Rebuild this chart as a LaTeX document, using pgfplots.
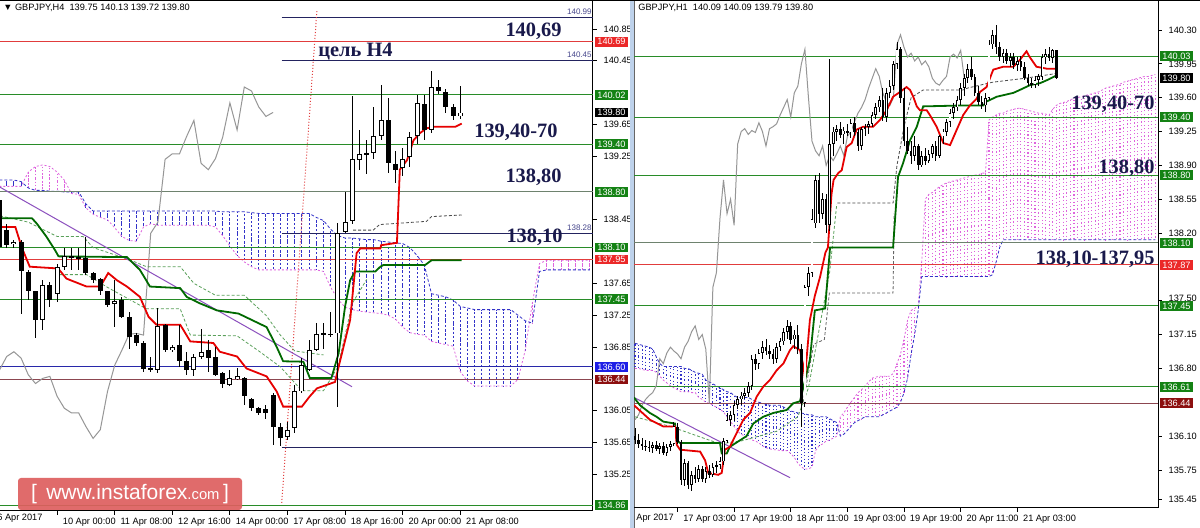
\documentclass[border=0pt]{standalone}
\usepackage{pgfplots}
\pgfplotsset{compat=1.18}
\usepackage{pgfplotstable}
\usepackage{fontspec}
\setmainfont{Liberation Sans}
\newfontfamily\labelserif{Liberation Serif}

\definecolor{lvlgreen}{RGB}{40,140,40}
\definecolor{lvlgray}{RGB}{110,130,110}
\definecolor{lvlred}{RGB}{225,60,60}
\definecolor{lvlbrown}{RGB}{140,70,80}
\definecolor{lvlblue}{RGB}{40,40,170}
\definecolor{lvlnavy}{RGB}{35,35,95}
\definecolor{boxgreen}{RGB}{20,130,20}
\definecolor{boxred}{RGB}{235,40,40}
\definecolor{boxblue}{RGB}{30,30,230}
\definecolor{boxbrown}{RGB}{140,15,15}
\definecolor{tenkan}{RGB}{230,0,0}
\definecolor{kijun}{RGB}{0,105,0}
\definecolor{chikou}{RGB}{150,150,150}
\definecolor{cloudblue}{RGB}{50,50,200}
\definecolor{cloudmag}{RGB}{222,100,222}
\definecolor{trendpurple}{RGB}{140,80,190}
\definecolor{labelnavy}{RGB}{25,25,75}
\definecolor{logored}{RGB}{222,95,95}
\definecolor{sepblue}{RGB}{190,210,235}
\definecolor{dashgreen}{RGB}{90,160,90}
\definecolor{smallnavy}{RGB}{70,70,140}

% ---------- H4 candles ----------
\pgfplotstableread{
x o h l c
-1 138.70 138.75 138.05 138.11
0 138.32 138.40 138.10 138.13
1 138.145 138.20 138.10 138.175
2 138.175 138.20 137.27 137.80
3 137.80 137.82 137.44 137.55
4 137.55 137.56 136.96 137.19
5 137.19 137.69 137.06 137.63
6 137.63 137.67 137.36 137.44
7 137.52 137.90 137.42 137.86
8 137.86 138.09 137.82 137.99
9 137.99 138.10 137.82 137.97
10 137.97 138.10 137.82 137.98
11 137.97 138.24 137.76 137.78
12 137.78 137.80 137.66 137.69
13 137.70 137.72 137.50 137.55
14 137.55 137.56 137.35 137.38
15 137.39 137.69 137.10 137.43
16 137.44 137.48 137.21 137.23
17 137.23 137.29 136.83 136.98
18 137.00 137.02 136.86 136.90
19 136.90 136.92 136.54 136.58
20 136.58 136.73 136.54 136.57
21 136.56 137.34 136.52 137.11
22 137.13 137.14 136.79 136.81
23 136.81 136.88 136.79 136.85
24 136.87 137.13 136.60 136.67
25 136.67 136.79 136.50 136.56
26 136.56 136.76 136.48 136.73
27 136.73 137.08 136.70 136.79
28 136.81 136.94 136.54 136.71
29 136.72 136.85 136.48 136.50
30 136.52 136.53 136.33 136.39
31 136.37 136.56 136.36 136.455
32 136.45 136.58 136.44 136.48
33 136.46 136.47 136.12 136.23
34 136.20 136.21 136.04 136.08
35 136.08 136.09 136.00 136.02
36 136.07 136.12 135.95 136.02
37 136.25 136.27 135.62 135.85
38 135.85 135.89 135.60 135.70
39 135.72 135.91 135.68 135.81
40 135.83 136.37 135.77 136.29
41 136.29 136.71 136.27 136.62
42 136.56 136.94 136.55 136.81
43 136.81 137.15 136.80 137.01
44 137.01 137.15 136.82 137.02
45 137.02 137.29 136.98 137.00
46 137.02 138.41 136.10 138.28
47 138.30 138.80 138.28 138.42
48 138.43 140.01 138.40 139.21
49 139.20 139.58 139.07 139.28
50 139.28 139.45 139.03 139.28
51 139.29 139.87 139.22 139.50
52 139.50 140.15 139.45 139.70
53 139.70 139.98 139.04 139.16
54 139.15 139.31 138.91 139.08
55 139.10 139.35 139.00 139.22
56 139.24 139.56 139.12 139.49
57 139.50 140.02 139.40 139.92
58 139.91 140.02 139.45 139.58
59 139.58 140.32 139.54 140.12
60 140.12 140.21 140.03 140.07
61 140.06 140.10 139.80 139.87
62 139.87 139.90 139.70 139.75
63 139.75 140.13 139.72 139.80
}\Lc

% ---------- H4 cloud (span A, span B) ----------
\pgfplotstableread{
x a b
-1 138.87 138.95
0 138.87 138.95
1 138.87 138.95
2 138.87 138.93
3 139.05 138.85
4 139.12 138.82
5 139.14 138.82
6 139.12 138.81
7 139.05 138.81
8 138.95 138.80
9 138.78 138.80
10 138.77 138.80
11 138.60 138.65
12 138.52 138.56
13 138.48 138.56
14 138.45 138.56
15 138.35 138.56
16 138.24 138.56
17 138.19 138.56
18 138.18 138.56
19 138.36 138.56
20 138.40 138.56
21 138.38 138.56
22 138.38 138.56
23 138.38 138.56
24 138.38 138.56
25 138.38 138.56
26 138.38 138.56
27 138.38 138.56
28 138.38 138.56
29 138.36 138.56
30 138.25 138.55
31 138.12 138.55
32 138.00 138.55
33 137.92 138.55
34 137.86 138.54
35 137.82 138.53
36 137.82 138.53
37 137.82 138.53
38 137.82 138.53
39 137.82 138.53
40 137.82 138.53
41 137.82 138.53
42 137.82 138.53
43 137.82 138.48
44 137.80 138.44
45 137.60 138.33
46 137.45 138.25
47 137.35 138.22
48 137.32 138.22
49 137.30 138.21
50 137.29 138.20
51 137.28 138.20
52 137.27 138.18
53 137.25 138.17
54 137.20 138.16
55 137.10 138.15
56 137.03 138.10
57 137.01 138.00
58 137.00 137.88
59 136.92 137.52
60 136.90 137.50
61 136.88 137.48
62 136.86 137.44
63 136.54 137.36
64 136.42 137.34
65 136.36 137.32
66 136.36 137.32
67 136.36 137.32
68 136.36 137.32
69 136.36 137.32
70 136.36 137.32
71 136.44 137.25
72 136.80 137.18
73 137.40 137.15
74 137.90 137.80
75 137.94 137.82
76 137.94 137.82
77 137.94 137.82
78 137.94 137.82
79 137.94 137.82
80 137.94 137.82
81 137.94 137.82
}\Lcloud

% ---------- H1 candles ----------
\pgfplotstableread{
x o h l c
0 136.10 136.18 136.02 136.06
1 136.06 136.12 135.98 136.02
2 136.02 136.08 135.96 136.00
3 136.00 136.06 135.95 135.99
4 135.99 136.05 135.94 135.98
5 135.98 136.04 135.93 136.01
6 136.01 136.05 135.95 135.97
7 135.97 136.03 135.92 136.00
8 136.00 136.04 135.90 135.93
9 135.93 136.02 135.90 135.99
10 135.99 136.05 135.95 136.02
11 136.02 136.25 136.00 136.20
12 136.20 136.24 136.02 136.04
13 136.04 136.06 135.60 135.65
14 135.65 135.86 135.58 135.82
15 135.82 135.84 135.55 135.60
16 135.60 135.74 135.53 135.70
17 135.70 135.78 135.62 135.66
18 135.66 135.80 135.63 135.76
19 135.76 135.79 135.63 135.66
20 135.66 135.78 135.62 135.74
21 135.74 135.80 135.67 135.70
22 135.70 135.82 135.68 135.78
23 135.78 135.84 135.72 135.80
24 135.80 135.88 135.76 135.84
25 135.84 136.08 135.80 136.05
26 136.05 136.34 136.03 136.27
27 136.27 136.36 136.20 136.32
28 136.32 136.46 136.26 136.42
29 136.42 136.52 136.38 136.48
30 136.48 136.56 136.42 136.52
31 136.52 136.60 136.48 136.55
32 136.55 136.66 136.50 136.62
33 136.62 136.94 136.58 136.90
34 136.90 136.95 136.78 136.85
35 136.85 137.00 136.80 136.96
36 136.96 137.08 136.90 137.02
37 137.02 137.10 136.94 136.98
38 136.98 137.04 136.90 136.95
39 136.95 137.00 136.85 136.90
40 136.90 137.06 136.86 137.02
41 137.02 137.12 136.98 137.08
42 137.08 137.22 137.04 137.18
43 137.18 137.30 137.10 137.24
44 137.24 137.28 137.05 137.10
45 137.10 137.20 137.00 137.15
46 137.15 137.25 136.95 137.00
47 137.00 137.05 136.20 136.44
48 136.44 137.66 136.40 137.64
49 137.64 137.85 137.55 137.79
50 137.79 138.45 137.75 138.35
51 138.30 138.80 138.25 138.75
52 138.75 138.82 138.30 138.40
53 138.40 138.62 138.35 138.55
54 138.55 138.60 138.20 138.28
55 138.28 140.00 138.22 139.12
56 139.12 139.30 139.00 139.25
57 139.25 139.32 139.15 139.28
58 139.28 139.35 139.18 139.22
59 139.22 139.30 139.12 139.26
60 139.26 139.33 139.20 139.24
61 139.24 139.38 139.18 139.34
62 139.34 139.40 139.20 139.25
63 139.25 139.28 139.05 139.10
64 139.10 139.30 139.06 139.28
65 139.28 139.33 139.20 139.30
66 139.30 139.36 139.22 139.33
67 139.33 139.45 139.30 139.42
68 139.42 139.55 139.38 139.50
69 139.50 139.62 139.45 139.58
70 139.58 139.70 139.36 139.40
71 139.40 139.70 139.35 139.65
72 139.65 139.78 139.60 139.72
73 139.72 139.98 139.68 139.95
74 139.95 140.18 139.90 140.10
75 140.10 140.12 139.55 139.60
76 139.60 139.70 139.10 139.15
77 139.15 139.30 139.02 139.05
78 139.05 139.15 138.92 139.00
79 139.00 139.20 138.95 139.10
80 139.10 139.12 138.85 138.90
81 138.90 139.05 138.88 139.00
82 139.00 139.08 138.90 138.95
83 138.95 139.06 138.92 139.02
84 139.02 139.12 138.98 139.10
85 139.10 139.15 138.95 139.00
86 139.00 139.22 138.98 139.20
87 139.20 139.28 139.12 139.25
88 139.25 139.38 139.20 139.35
89 139.35 139.48 139.30 139.44
90 139.44 139.55 139.38 139.50
91 139.50 139.62 139.46 139.58
92 139.58 139.75 139.52 139.70
93 139.70 139.85 139.62 139.80
94 139.80 139.95 139.75 139.90
95 139.90 140.02 139.78 139.82
96 139.82 139.85 139.62 139.65
97 139.65 139.72 139.52 139.56
98 139.56 139.62 139.48 139.52
99 139.52 139.65 139.45 139.60
100 139.60 140.20 139.58 140.15
101 140.15 140.30 140.10 140.25
102 140.25 140.35 140.05 140.12
103 140.12 140.18 139.98 140.02
104 140.02 140.10 139.96 140.06
105 140.06 140.10 139.95 139.98
106 139.98 140.06 139.92 140.02
107 140.02 140.06 139.90 139.94
108 139.94 140.02 139.88 139.98
109 139.98 140.03 139.88 139.92
110 139.92 139.97 139.78 139.80
111 139.80 139.84 139.72 139.75
112 139.75 139.80 139.70 139.73
113 139.73 139.82 139.70 139.78
114 139.78 139.85 139.72 139.82
115 139.82 140.05 139.78 140.02
116 140.02 140.10 139.95 140.05
117 140.05 140.12 139.98 140.01
118 140.01 140.10 139.96 140.09
119 140.09 140.09 139.79 139.80
}\Rc

% ---------- H1 cloud ----------
\pgfplotstableread{
x a b
0 136.80 137.06
1 136.80 137.05
2 136.79 137.04
3 136.78 137.03
4 136.78 137.02
5 136.78 137.00
6 136.76 136.92
7 136.72 136.85
8 136.68 136.82
9 136.65 136.82
10 136.62 136.82
11 136.60 136.82
12 136.58 136.82
13 136.56 136.82
14 136.56 136.80
15 136.56 136.80
16 136.55 136.78
17 136.55 136.76
18 136.50 136.75
19 136.48 136.74
20 136.45 136.68
21 136.44 136.66
22 136.42 136.64
23 136.40 136.62
24 136.38 136.60
25 136.35 136.58
26 136.30 136.56
27 136.25 136.55
28 136.20 136.52
29 136.15 136.50
30 136.12 136.50
31 136.10 136.50
32 136.08 136.50
33 136.06 136.48
34 136.05 136.46
35 136.03 136.45
36 136.00 136.44
37 135.98 136.43
38 135.97 136.42
39 135.96 136.42
40 135.96 136.42
41 135.95 136.42
42 135.95 136.40
43 135.95 136.38
44 135.92 136.36
45 135.88 136.35
46 135.82 136.34
47 135.78 136.34
48 135.76 136.33
49 135.76 136.32
50 135.78 136.32
51 135.95 136.30
52 136.00 136.30
53 136.02 136.30
54 136.05 136.30
55 136.06 136.28
56 136.08 136.26
57 136.10 136.24
58 136.30 136.10
59 136.34 136.12
60 136.40 136.16
61 136.45 136.20
62 136.50 136.24
63 136.55 136.26
64 136.58 136.28
65 136.62 136.30
66 136.66 136.30
67 136.70 136.30
68 136.71 136.30
69 136.72 136.30
70 136.72 136.32
71 136.72 136.34
72 136.72 136.36
73 136.75 136.38
74 136.85 136.40
75 136.95 136.45
76 137.10 136.55
77 137.30 136.70
78 137.40 136.95
79 137.42 137.15
80 137.45 137.40
81 137.90 137.75
82 138.55 137.75
83 138.60 137.75
84 138.62 137.75
85 138.65 137.75
86 138.68 137.75
87 138.70 137.75
88 138.72 137.75
89 138.73 137.75
90 138.74 137.75
91 138.75 137.75
92 138.76 137.75
93 138.77 137.75
94 138.78 137.75
95 138.79 137.75
96 138.80 137.75
97 138.80 137.75
98 138.82 137.75
99 138.82 137.75
100 139.37 137.75
101 139.40 137.77
102 139.42 137.90
103 139.44 138.05
104 139.44 138.13
105 139.46 138.13
106 139.47 138.13
107 139.48 138.13
108 139.49 138.13
109 139.49 138.13
110 139.48 138.13
111 139.47 138.13
112 139.46 138.13
113 139.45 138.13
114 139.44 138.13
115 139.44 138.13
116 139.43 138.13
117 139.42 138.13
118 139.48 138.13
119 139.52 138.13
120 139.54 138.13
121 139.55 138.13
122 139.56 138.13
123 139.58 138.13
124 139.59 138.13
125 139.60 138.13
126 139.61 138.13
127 139.62 138.13
128 139.63 138.13
129 139.64 138.13
130 139.65 138.13
131 139.66 138.13
132 139.68 138.13
133 139.70 138.13
134 139.71 138.13
135 139.72 138.13
136 139.73 138.13
137 139.74 138.13
138 139.76 138.13
139 139.77 138.13
140 139.78 138.13
141 139.79 138.13
142 139.80 138.13
143 139.81 138.13
144 139.82 138.13
145 139.82 138.13
146 139.83 138.13
147 139.84 138.13
}\Rcloud

\newcommand{\hl}[4]{\addplot[#1, line width=0.5pt] coordinates {(#2,#4) (#3,#4)};}

\pgfplotsset{
  mt4/.style={scale only axis, axis x line*=bottom, axis y line*=right,
    axis line style={line width=0.5pt, black}, tick align=outside,
    major tick length=1.8pt, tick style={black, line width=0.4pt},
    ticklabel style={font=\fontsize{4.6}{5}\selectfont},
    xticklabel style={anchor=north west, xshift=-0.6pt, yshift=1.6pt},
    clip mode=individual, every axis plot/.append style={forget plot}},
  eb/.style={draw=none, error bars/y dir=both, error bars/y explicit, error bars/error mark=none},
}
\tikzset{
  pbox/.style={anchor=west, xshift=0.6pt, inner xsep=1.4pt, inner ysep=0.8pt,
    text height=3.3pt, text depth=0pt, font=\fontsize{4.6}{5}\selectfont, text=white},
  big/.style={inner sep=0pt, text=labelnavy, font=\labelserif\bfseries\fontsize{10.2}{11}\selectfont},
}

\begin{document}
\begin{tikzpicture}
\useasboundingbox (0,0) rectangle (600pt,264pt);
\fill[white] (0,0) rectangle (600pt,264pt);

% ================= LEFT PANEL (H4) =================
\begin{axis}[mt4, at={(0pt,8.5pt)}, anchor=south west, width=296.5pt, height=255pt,
  xmin=-0.93, xmax=81.43, ymin=134.787, ymax=141.202,
  ytick={140.85,140.45,139.65,139.25,138.45,137.65,137.25,136.85,136.05,135.65,135.25},
  yticklabels={140.85,140.45,139.65,139.25,138.45,137.65,137.25,136.85,136.05,135.65,135.25},
  xtick={7,15,23,31,39,47,55,63},
  xticklabels={10 Apr 00:00,11 Apr 08:00,12 Apr 16:00,14 Apr 00:00,17 Apr 08:00,18 Apr 16:00,20 Apr 00:00,21 Apr 08:00}]

% cloud
\addplot[eb, restrict expr to domain={\thisrow{b}-\thisrow{a}}{0:10},
  error bars/error bar style={draw=cloudblue, line width=0.5pt, dash pattern=on 1.2pt off 0.9pt}]
  table[x=x, y expr={(\thisrow{a}+\thisrow{b})/2}, y error expr={abs(\thisrow{a}-\thisrow{b})/2}] {\Lcloud};
\addplot[eb, restrict expr to domain={\thisrow{b}-\thisrow{a}}{-10:0},
  error bars/error bar style={draw=cloudmag, line width=0.5pt, dash pattern=on 0.8pt off 0.8pt}]
  table[x=x, y expr={(\thisrow{a}+\thisrow{b})/2}, y error expr={abs(\thisrow{a}-\thisrow{b})/2}] {\Lcloud};
\addplot[cloudmag, line width=0.4pt, dash pattern=on 1pt off 1pt] table[x=x,y=a] {\Lcloud};
\addplot[cloudblue, line width=0.4pt, dash pattern=on 1.5pt off 1pt] table[x=x,y=b] {\Lcloud};

% levels
\hl{lvlred}{-0.93}{81.43}{140.69}
\hl{lvlnavy}{38.2}{81.43}{140.99}
\hl{lvlnavy}{38.2}{81.43}{140.45}
\hl{lvlnavy}{38.2}{81.43}{138.28}
\hl{lvlnavy}{38.2}{81.43}{135.59}
\hl{lvlgreen}{-0.93}{81.43}{140.02}
\hl{lvlgreen}{-0.93}{81.43}{139.40}
\hl{lvlgray}{-0.93}{81.43}{138.80}
\hl{lvlgreen}{-0.93}{81.43}{138.10}
\hl{lvlred}{-0.93}{81.43}{137.95}
\hl{lvlgreen}{-0.93}{81.43}{137.45}
\hl{lvlblue}{-0.93}{81.43}{136.60}
\hl{lvlbrown}{-0.93}{81.43}{136.44}
\hl{lvlgreen}{-0.93}{81.43}{134.86}

% pink dotted vertical-ish
\addplot[lvlred, line width=0.5pt, densely dotted] coordinates {(38.2,134.89) (43.1,141.10)};

% chikou
\addplot[chikou, line width=0.5pt] coordinates {
(-1,136.56)(0,136.73)(1,136.79)(2,136.71)(3,136.50)(4,136.39)(5,136.455)(6,136.48)(7,136.23)(8,136.08)
(9,136.02)(10,136.02)(11,135.85)(12,135.70)(13,135.81)(14,136.29)(15,136.62)(16,136.81)(17,137.01)(18,137.02)
(19,137.00)(20,138.28)(21,138.42)(22,139.21)(23,139.28)(24,139.28)(25,139.50)(26,139.70)(27,139.16)(28,139.08)
(29,139.22)(30,139.49)(31,139.92)(32,139.58)(33,140.12)(34,140.07)(35,139.87)(36,139.75)(37,139.80)};

% dashed helper lines
\addplot[dashgreen, line width=0.4pt, dash pattern=on 1.5pt off 1pt] coordinates {
(-0.93,138.50)(3,138.42)(7,138.24)(10.6,138.24)(12,138.10)(17,137.95)(19.4,137.86)(24.1,137.86)(26,137.65)(29,137.50)(33,137.50)(36,137.25)(38,137.00)(40,136.80)(44,136.75)};
\addplot[dashgreen, line width=0.4pt, dash pattern=on 1.5pt off 1pt] coordinates {
(7.4,137.76)(11.1,137.76)(14,137.60)(19.4,137.33)(24.1,137.33)(25.5,137.00)(32,136.99)(35,136.80)(38,136.60)(41,136.30)(44,136.30)(46,136.60)(48,137.40)(50,137.70)};
\addplot[black!70, line width=0.4pt, dash pattern=on 1.5pt off 1pt] coordinates {
(48.1,138.32)(50.9,138.32)(51.8,138.39)(58.3,138.43)(59,138.49)(63.2,138.51)};

% trend line
\addplot[trendpurple, line width=0.5pt] coordinates {(-0.93,138.86) (47.96,136.35)};

% kijun
\addplot[kijun, line width=0.9pt] coordinates {
(-1,138.47)(3.5,138.47)(4.2,138.40)(5.5,138.24)(6.7,138.07)(7.2,137.99)(16.7,137.98)(17.6,137.90)(18.5,137.82)
(19.9,137.61)(24.1,137.59)(25,137.48)(26.8,137.40)(29.2,137.31)(32.2,137.27)(36.1,137.10)(37.5,136.85)(38.4,136.67)
(41.2,136.665)(42.1,136.46)(45.1,136.46)(46.1,136.77)(47,137.36)(47.7,137.69)(48.4,137.80)(51.2,137.80)(51.9,137.86)
(52.3,137.88)(58.1,137.88)(59,137.94)(63.2,137.94)};
% tenkan
\addplot[tenkan, line width=0.9pt] coordinates {
(-1,138.36)(1.2,138.36)(2.1,138.10)(3.2,137.86)(6.7,137.84)(7.3,137.82)(8.3,137.71)(11.1,137.61)(13,137.61)
(14.1,137.78)(15.3,137.69)(16.7,137.61)(18.5,137.48)(19.7,137.23)(20.8,137.13)(24.1,137.13)(25.5,136.92)
(28.7,136.90)(29.6,136.79)(32,136.73)(33.3,136.58)(36.1,136.48)(37.5,136.29)(38.4,136.10)(41,136.10)
(42.1,136.23)(43.1,136.33)(45.6,136.41)(46.1,136.60)(47.7,137.19)(48.6,138.03)(49.1,138.09)(51.9,138.09)
(52,138.13)(54.2,138.16)(54.6,139.08)(55.6,139.20)(56.5,139.45)(57.4,139.54)(58.3,139.60)(59.3,139.62)
(62.3,139.62)(63.2,139.66)};

% candles
\addplot[eb, error bars/error bar style={draw=black, line width=0.5pt}]
  table[x=x, y expr={(\thisrow{h}+\thisrow{l})/2}, y error expr={(\thisrow{h}-\thisrow{l})/2}] {\Lc};
\addplot[eb, error bars/error bar style={draw=black, line width=2.5pt}]
  table[x=x, y expr={(\thisrow{o}+\thisrow{c})/2}, y error expr={max(abs(\thisrow{c}-\thisrow{o})/2,0.007)}] {\Lc};
\addplot[eb, restrict expr to domain={\thisrow{c}-\thisrow{o}}{0.03:100},
  error bars/error bar style={draw=white, line width=1.5pt}]
  table[x=x, y expr={(\thisrow{o}+\thisrow{c})/2}, y error expr={abs(\thisrow{c}-\thisrow{o})/2-0.012}] {\Lc};

% price boxes
\node[pbox, fill=boxred] at (axis cs:81.43,140.69) {140.69};
\node[pbox, fill=boxgreen] at (axis cs:81.43,140.02) {140.02};
\node[pbox, fill=black] at (axis cs:81.43,139.80) {139.80};
\node[pbox, fill=boxgreen] at (axis cs:81.43,139.40) {139.40};
\node[pbox, fill=boxgreen] at (axis cs:81.43,138.80) {138.80};
\node[pbox, fill=boxgreen] at (axis cs:81.43,138.10) {138.10};
\node[pbox, fill=boxred] at (axis cs:81.43,137.95) {137.95};
\node[pbox, fill=boxgreen] at (axis cs:81.43,137.45) {137.45};
\node[pbox, fill=boxblue] at (axis cs:81.43,136.60) {136.60};
\node[pbox, fill=boxbrown] at (axis cs:81.43,136.44) {136.44};
\node[pbox, fill=boxgreen] at (axis cs:81.43,134.86) {134.86};
\end{axis}

% separator
\fill[sepblue] (315pt,0) rectangle (317pt,264pt);
\draw[black!60, line width=0.3pt] (317pt,0) -- (317pt,264pt);

% ================= RIGHT PANEL (H1) =================
\begin{axis}[mt4, at={(317pt,10pt)}, anchor=south west, width=262pt, height=253.5pt,
  xmin=-0.28, xmax=147.74, ymin=135.357, ymax=140.60,
  ytick={140.30,139.95,139.60,139.25,138.90,138.55,138.20,137.15,136.80,136.10,135.75,135.45},
  yticklabels={140.30,139.95,139.60,139.25,138.90,138.55,138.20,137.15,136.80,136.10,135.75,135.45},
  extra y ticks={137.50}, extra y tick labels={137.50},
  extra y tick style={yticklabel style={yshift=1.3pt}},
  xtick={12,28,44,60,76,92,108},
  xticklabels={17 Apr 03:00,17 Apr 19:00,18 Apr 11:00,19 Apr 03:00,19 Apr 19:00,20 Apr 11:00,21 Apr 03:00}]

\addplot[eb, restrict expr to domain={\thisrow{b}-\thisrow{a}}{0:10},
  error bars/error bar style={draw=cloudblue, line width=0.55pt, dash pattern=on 0.6pt off 1.1pt}]
  table[x=x, y expr={(\thisrow{a}+\thisrow{b})/2}, y error expr={abs(\thisrow{a}-\thisrow{b})/2}] {\Rcloud};
\addplot[eb, restrict expr to domain={\thisrow{b}-\thisrow{a}}{-10:0},
  error bars/error bar style={draw=cloudmag, line width=0.55pt, dash pattern=on 0.6pt off 1.2pt}]
  table[x=x, y expr={(\thisrow{a}+\thisrow{b})/2}, y error expr={abs(\thisrow{a}-\thisrow{b})/2}] {\Rcloud};
\addplot[cloudmag, line width=0.4pt, dash pattern=on 1pt off 1pt] table[x=x,y=a] {\Rcloud};
\addplot[cloudblue, line width=0.4pt, dash pattern=on 1.5pt off 1pt] table[x=x,y=b] {\Rcloud};

\hl{lvlgreen}{-0.28}{147.74}{140.03}
\hl{lvlgreen}{-0.28}{147.74}{139.40}
\hl{lvlgreen}{-0.28}{147.74}{138.80}
\hl{lvlgray}{-0.28}{147.74}{138.10}
\hl{lvlred}{-0.28}{147.74}{137.87}
\hl{lvlgreen}{-0.28}{147.74}{137.45}
\hl{lvlgreen}{-0.28}{147.74}{136.61}
\hl{lvlbrown}{-0.28}{147.74}{136.44}

% chikou
\addplot[chikou, line width=0.5pt] coordinates {
(0,136.27)(1,136.32)(2,136.42)(3,136.48)(4,136.52)(5,136.55)(6,136.62)(7,136.90)(8,136.85)(9,136.96)
(10,137.02)(11,136.98)(12,136.95)(13,136.90)(14,137.02)(15,137.08)(16,137.18)(17,137.24)(18,137.10)(19,137.15)
(20,137.00)(21,136.44)(22,137.64)(23,137.79)(24,138.35)(25,138.75)(26,138.40)(27,138.55)(28,138.28)(29,139.12)
(30,139.25)(31,139.28)(32,139.22)(33,139.26)(34,139.24)(35,139.34)(36,139.25)(37,139.10)(38,139.28)(39,139.30)
(40,139.33)(41,139.42)(42,139.50)(43,139.58)(44,139.40)(45,139.65)(46,139.72)(47,139.95)(48,140.10)(49,139.60)
(50,139.15)(51,139.05)(52,139.00)(53,139.10)(54,138.90)(55,139.00)(56,138.95)(57,139.02)(58,139.10)(59,139.00)
(60,139.20)(61,139.25)(62,139.35)(63,139.44)(64,139.50)(65,139.58)(66,139.70)(67,139.80)(68,139.90)(69,139.82)
(70,139.65)(71,139.56)(72,139.52)(73,139.60)(74,140.15)(75,140.25)(76,140.12)(77,140.02)(78,140.06)(79,139.98)
(80,140.02)(81,139.94)(82,139.98)(83,139.92)(84,139.80)(85,139.75)(86,139.73)(87,139.78)(88,139.82)(89,140.02)
(90,140.05)(91,140.01)(92,140.09)(93,139.80)};

% dashed helper lines
\addplot[black!70, line width=0.4pt, dash pattern=on 1.5pt off 1pt] coordinates {
(57.2,138.51)(72.9,138.51)(74,138.90)(76,139.30)(78,139.60)(81.4,139.68)(92.7,139.68)(94,139.70)(101,139.76)(110,139.80)(119,139.85)};
\addplot[black!60, line width=0.4pt, dash pattern=on 1.5pt off 1pt] coordinates {
(47.5,136.45)(50.5,137.05)(53.5,137.10)(54.9,137.58)(72.9,137.58)(73.2,138.40)};
\addplot[dashgreen, line width=0.4pt, dash pattern=on 1.5pt off 1pt] coordinates {
(0,136.30)(10,136.20)(24,136.02)(30,136.05)(40,136.15)(46,136.30)(49,136.60)(52,137.20)(55,137.80)(57,138.50)};

\addplot[trendpurple, line width=0.5pt] coordinates {(-0.28,136.50) (43.8,135.67)};

\addplot[kijun, line width=0.9pt] coordinates {
(-0.3,136.50)(1.4,136.42)(4.2,136.34)(6.1,136.30)(8,136.25)(11.3,136.23)(11.8,136.06)(12.7,136.03)(24,136.03)
(24.5,135.92)(25.9,135.92)(26.8,135.99)(31.5,136.10)(33.4,136.23)(36.2,136.30)(39.1,136.34)(42.8,136.37)
(44.7,136.44)(46.6,136.46)(47.6,136.61)(49.4,136.89)(50.8,137.40)(53.7,137.42)(55.1,138.05)
(72.9,138.05)(74.3,138.78)(75.7,138.92)(77.7,139.16)(79.6,139.30)(81.4,139.51)(93.2,139.52)(98.4,139.52)
(99.3,139.56)(102.2,139.61)(106.9,139.65)(108.7,139.68)(111.6,139.73)(114.4,139.75)(116.3,139.78)(119.1,139.83)};
\addplot[tenkan, line width=0.9pt] coordinates {
(-0.3,136.42)(4.2,136.27)(8,136.20)(11.3,136.20)(11.8,136.01)(12.7,135.96)(18.4,135.94)(19.8,135.85)(20.7,135.72)
(23.5,135.70)(24.5,135.72)(25.4,135.96)(26.8,135.99)(28.7,136.13)(30.6,136.27)(32.5,136.34)(34.4,136.51)
(36.2,136.61)(38.1,136.68)(40,136.78)(41.9,136.85)(43.8,136.99)(44.7,137.03)(46.6,136.99)(47.6,136.82)(48,136.70)
(49.4,137.30)(50.8,137.55)(52.3,137.75)(53.8,138.00)(54.5,138.05)(55.5,138.60)(56.1,138.75)(57.4,138.82)(58.4,138.85)
(59.8,139.09)(61.2,139.13)(62.6,139.27)(64.5,139.30)(67.3,139.30)(69.2,139.37)(71.1,139.47)(72.9,139.61)
(74.9,139.66)(76.7,139.71)(77.7,139.68)(78.6,139.61)(79.6,139.51)(80.5,139.47)(82.4,139.47)(83.3,139.42)
(85.2,139.30)(87.1,139.13)(89,139.11)(90.9,139.27)(92.7,139.42)(94.6,139.52)(96.5,139.59)(97.5,139.66)
(99.3,139.71)(101.2,139.89)(104,139.92)(106.9,139.92)(108.7,139.99)(110.6,140.08)(111.5,140.02)(113.4,139.92)
(116.3,139.90)(119.1,139.90)};

\addplot[eb, error bars/error bar style={draw=black, line width=0.45pt}]
  table[x=x, y expr={(\thisrow{h}+\thisrow{l})/2}, y error expr={(\thisrow{h}-\thisrow{l})/2}] {\Rc};
\addplot[eb, error bars/error bar style={draw=black, line width=1.3pt}]
  table[x=x, y expr={(\thisrow{o}+\thisrow{c})/2}, y error expr={max(abs(\thisrow{c}-\thisrow{o})/2,0.006)}] {\Rc};
\addplot[eb, restrict expr to domain={\thisrow{c}-\thisrow{o}}{0.03:100},
  error bars/error bar style={draw=white, line width=0.6pt}]
  table[x=x, y expr={(\thisrow{o}+\thisrow{c})/2}, y error expr={abs(\thisrow{c}-\thisrow{o})/2-0.009}] {\Rc};

\node[pbox, fill=boxgreen] at (axis cs:147.74,140.03) {140.03};
\node[pbox, fill=black] at (axis cs:147.74,139.80) {139.80};
\node[pbox, fill=boxgreen] at (axis cs:147.74,139.40) {139.40};
\node[pbox, fill=boxgreen] at (axis cs:147.74,138.80) {138.80};
\node[pbox, fill=boxgreen] at (axis cs:147.74,138.10) {138.10};
\node[pbox, fill=boxred] at (axis cs:147.74,137.87) {137.87};
\node[pbox, fill=boxgreen, yshift=-0.4pt] at (axis cs:147.74,137.45) {137.45};
\node[pbox, fill=boxgreen] at (axis cs:147.74,136.61) {136.61};
\node[pbox, fill=boxbrown] at (axis cs:147.74,136.44) {136.44};
\end{axis}

% frame top line
\draw[black, line width=0.6pt] (0,263.7pt) -- (600pt,263.7pt);

% headers
\node[anchor=west, inner sep=0pt, font=\fontsize{4.6}{5}\selectfont] at (1.5pt,260.3pt) {▼ GBPJPY,H4\ \ 139.75 140.13 139.72 139.80};
\node[anchor=west, inner sep=0pt, font=\fontsize{4.6}{5}\selectfont] at (319pt,260.3pt) {GBPJPY,H1\ \ 140.09 140.09 139.79 139.80};

% first time labels
\node[anchor=north west, inner sep=0pt, font=\fontsize{4.6}{5}\selectfont] at (-1.5pt,7.3pt) {6 Apr 2017};
\node[anchor=north west, inner sep=0pt, font=\fontsize{4.6}{5}\selectfont] at (318pt,7.3pt) {Apr 2017};

% small level captions
\node[anchor=base east, inner sep=0pt, text=smallnavy, font=\fontsize{4}{4}\selectfont] at (296pt,256.5pt) {140.99};
\node[anchor=base east, inner sep=0pt, text=smallnavy, font=\fontsize{4}{4}\selectfont] at (296pt,235pt) {140.45};
\node[anchor=base east, inner sep=0pt, text=smallnavy, font=\fontsize{4}{4}\selectfont] at (296pt,148.5pt) {138.28};

% big labels
\node[big, anchor=base east] at (281pt,245.5pt) {140,69};
\node[big, anchor=base west] at (159pt,235.5pt) {цель H4};
\node[big, anchor=base east] at (279pt,195pt) {139,40-70};
\node[big, anchor=base east] at (281pt,172.5pt) {138,80};
\node[big, anchor=base east] at (281.5pt,142.5pt) {138,10};
\node[big, anchor=base east] at (577.5pt,209pt) {139,40-70};
\node[big, anchor=base east] at (577.5pt,177pt) {138,80};
\node[big, anchor=base east] at (577.5pt,131.5pt) {138,10-137,95};

% logo
\fill[logored, opacity=0.92, rounded corners=1.5pt] (9pt,9pt) rectangle (121pt,25pt);
\node[text=white, inner sep=0pt] at (65pt,17pt) {\fontsize{10.5}{11}\selectfont [\ \,www.instaforex{\fontsize{7.4}{8}\selectfont.com}\,]};
\end{tikzpicture}
\end{document}
